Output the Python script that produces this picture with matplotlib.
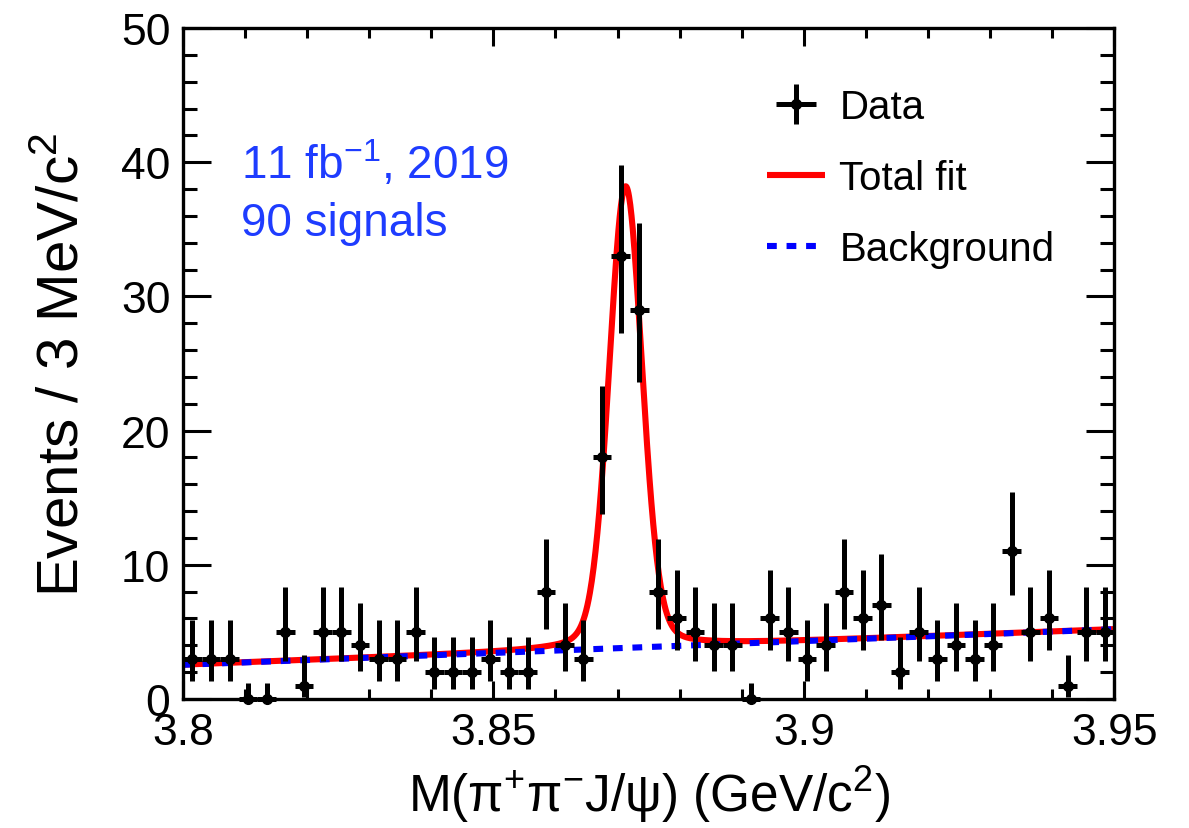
import numpy as np
import matplotlib
matplotlib.use('Agg')
import matplotlib.pyplot as plt
from matplotlib.ticker import MultipleLocator, FixedLocator

# ---------------- data ----------------
bin_low = 3.80
bin_width = 0.003
counts = [3, 3, 3, 0, 0, 5, 1, 5, 5, 4,
          3, 3, 5, 2, 2, 2, 3, 2, 2, 8,
          4, 3, 18, 33, 29, 8, 6, 5, 4, 4,
          0, 6, 5, 3, 4, 8, 6, 7, 2, 5,
          3, 4, 3, 4, 11, 5, 6, 1, 5, 5]

# asymmetric Poisson error bars (lower, upper edge) per count, as drawn
err_low = {0: 0.0, 1: 0.17, 2: 0.71, 3: 1.37, 4: 2.09, 5: 2.84, 6: 3.62,
           7: 4.42, 8: 5.23, 11: 7.74, 18: 13.8, 29: 23.65, 33: 27.3}
err_high = {0: 1.2, 1: 3.30, 2: 4.64, 3: 5.92, 4: 7.16, 5: 8.38, 6: 9.58,
            7: 10.77, 8: 11.95, 11: 15.41, 18: 23.32, 29: 35.44, 33: 39.8}

# fit model parameters
bkg_at_start = 2.55     # background at 3.80
bkg_at_end = 5.20       # background at 3.95
peak_mass = 3.8713
peak_fwhm = 0.0063
peak_eta = 0.18         # Lorentzian fraction of pseudo-Voigt
peak_amp = 34.4

x_ticks = [3.80, 3.85, 3.90, 3.95]
x_ticklabels = ['3.8', '3.85', '3.9', '3.95']
y_ticks = [0, 10, 20, 30, 40, 50]

# ---------------- style ----------------
plt.rcParams['font.family'] = ['Liberation Sans', 'DejaVu Sans']
plt.rcParams['mathtext.fontset'] = 'custom'
plt.rcParams['mathtext.rm'] = 'Liberation Sans'
plt.rcParams['mathtext.it'] = 'Liberation Sans:italic'
plt.rcParams['mathtext.default'] = 'regular'

fig = plt.figure(figsize=(11.89, 8.29), dpi=100)
ax = fig.add_axes([0.1539, 0.1556, 0.7832, 0.8094])

x_lo, x_hi = 3.80, 3.95
counts_arr = np.array(counts, dtype=float)
centers = bin_low + bin_width * (np.arange(len(counts)) + 0.5)
lo = np.array([err_low[c] for c in counts])
hi = np.array([err_high[c] for c in counts])


def background(m):
    return bkg_at_start + (bkg_at_end - bkg_at_start) * (m - x_lo) / (x_hi - x_lo)


def signal(m):
    hw = peak_fwhm / 2.0
    lor = hw ** 2 / ((m - peak_mass) ** 2 + hw ** 2)
    sig = peak_fwhm / (2 * np.sqrt(2 * np.log(2)))
    gau = np.exp(-0.5 * ((m - peak_mass) / sig) ** 2)
    return peak_amp * (peak_eta * lor + (1 - peak_eta) * gau)


mgrid = np.linspace(x_lo, x_hi, 1500)
ax.plot(mgrid, background(mgrid) + signal(mgrid), color='#ff0000', lw=4.4,
        zorder=2, label='Total fit', solid_capstyle='butt')
ax.plot(mgrid, background(mgrid), color='#0000ff', lw=4.4, zorder=2.5,
        dashes=(1.6, 1.6), dash_capstyle='butt', label='Background')

eb = ax.errorbar(centers, counts_arr, yerr=[counts_arr - lo, hi - counts_arr],
                 xerr=bin_width / 2, fmt='o', color='black', ms=7,
                 elinewidth=3.6, capsize=0, zorder=3, clip_on=False,
                 label='Data')
for art in eb.lines[2]:
    art.set_clip_on(False)

ax.set_xlim(x_lo, x_hi)
ax.set_ylim(0, 50)
ax.xaxis.set_major_locator(FixedLocator(x_ticks))
ax.set_xticklabels(x_ticklabels)
ax.xaxis.set_minor_locator(MultipleLocator(0.01))
ax.yaxis.set_major_locator(FixedLocator(y_ticks))
ax.yaxis.set_minor_locator(MultipleLocator(2))

for sp in ax.spines.values():
    sp.set_linewidth(2.4)

ax.tick_params(axis='both', which='both', direction='in', top=True,
               right=True, width=2.2, labelsize=32)
ax.tick_params(axis='y', which='major', length=20, pad=9)
ax.tick_params(axis='y', which='minor', length=10)
ax.tick_params(axis='x', which='major', length=13, pad=9)
ax.tick_params(axis='x', which='minor', length=7)

ax.set_xlabel(r'M(π$^{+}$π$^{-}$J/ψ) (GeV/c$^{2}$)', fontsize=37, labelpad=8)
ax.set_ylabel(r'Events / 3 MeV/c$^{2}$', fontsize=42, labelpad=22)

ax.text(0.062, 0.776, r'11 fb$^{-1}$, 2019', transform=ax.transAxes,
        color='#1e3cff', fontsize=33, ha='left', va='baseline')
ax.text(0.062, 0.692, '90 signals', transform=ax.transAxes,
        color='#1e3cff', fontsize=33, ha='left', va='baseline')

handles, labels = ax.get_legend_handles_labels()
order = [labels.index(n) for n in ['Data', 'Total fit', 'Background']]
ax.legend([handles[i] for i in order], [labels[i] for i in order],
          loc='upper left', bbox_to_anchor=(0.627, 0.91), frameon=False,
          fontsize=29, handlelength=1.45, handletextpad=0.35,
          labelspacing=0.82, borderpad=0, borderaxespad=0)

fig.savefig('out.png', dpi=100)
